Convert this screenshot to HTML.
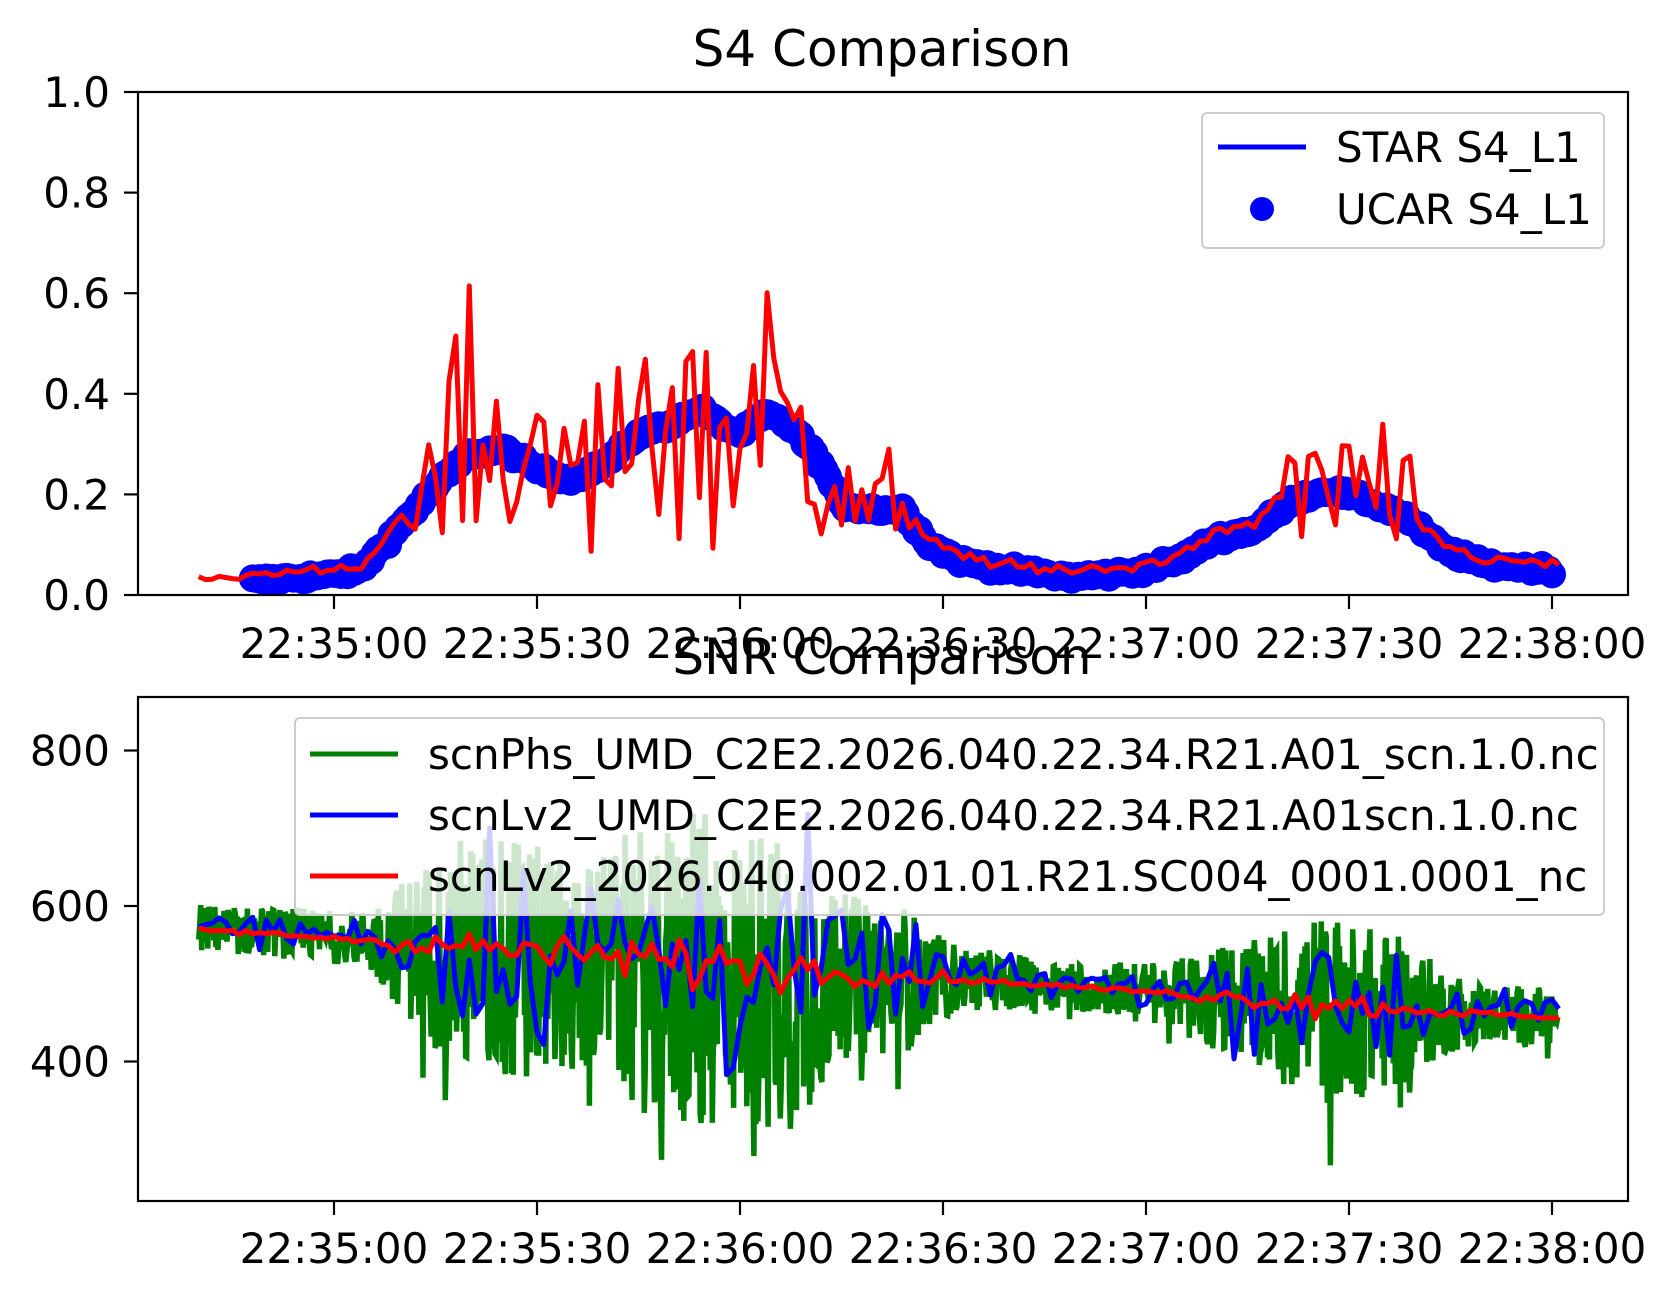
<!DOCTYPE html>
<html><head><meta charset="utf-8"><style>
html,body{margin:0;padding:0;background:#fff;}
svg text{font-family:"DejaVu Sans","Liberation Sans",sans-serif;fill:#000;}
</style></head><body>
<svg id="s" width="1675" height="1300" xmlns="http://www.w3.org/2000/svg">
<rect width="1675" height="1300" fill="#fff"/>
<defs>
<clipPath id="c1"><rect x="138" y="92" width="1490" height="503"/></clipPath>
<clipPath id="c2"><rect x="138" y="697" width="1490" height="504"/></clipPath>
</defs>
<g id="p1" clip-path="url(#c1)"></g>
<g id="p2" clip-path="url(#c2)"></g>
<g id="ax"></g>
<text x="882" y="66" font-size="50" text-anchor="middle">S4 Comparison</text>
<text x="882" y="674" font-size="50" text-anchor="middle">SNR Comparison</text>
<!-- legend 1 -->
<rect x="1202" y="113" width="402" height="135" rx="5" fill="#fff" fill-opacity="0.8" stroke="#ccc" stroke-width="2"/>
<line x1="1218" y1="147" x2="1306" y2="147" stroke="#00f" stroke-width="5"/>
<circle cx="1262" cy="209" r="12" fill="#00f"/>
<text x="1336" y="162" font-size="42">STAR S4_L1</text>
<text x="1336" y="224" font-size="42">UCAR S4_L1</text>
<!-- legend 2 -->
<rect x="295" y="718" width="1309" height="197" rx="5" fill="#fff" fill-opacity="0.8" stroke="#ccc" stroke-width="2"/>
<line x1="310" y1="754" x2="398" y2="754" stroke="#008000" stroke-width="5"/>
<line x1="310" y1="815" x2="398" y2="815" stroke="#00f" stroke-width="5"/>
<line x1="310" y1="876" x2="398" y2="876" stroke="#f00" stroke-width="5"/>
<text x="428" y="769" font-size="42">scnPhs_UMD_C2E2.2026.040.22.34.R21.A01_scn.1.0.nc</text>
<text x="428" y="830" font-size="42">scnLv2_UMD_C2E2.2026.040.22.34.R21.A01scn.1.0.nc</text>
<text x="428" y="891" font-size="42">scnLv2_2026.040.002.01.01.R21.SC004_0001.0001_nc</text>
</svg>
<script>
var NS="http://www.w3.org/2000/svg";
function el(p,n,a){var e=document.createElementNS(NS,n);for(var k in a)e.setAttribute(k,a[k]);p.appendChild(e);return e;}
var seed=12345;function rnd(){seed=(seed*1103515245+12345)%2147483648;return seed/2147483648;}
function gauss(){return (rnd()+rnd()+rnd()+rnd()-2)*1.7;}
var K=[[-20,0.035],[-10,0.04],[0,0.05],[4,0.06],[8,0.12],[12,0.18],[16,0.24],[20,0.29],[25,0.30],[30,0.26],[35,0.24],[40,0.27],[45,0.33],[50,0.35],[54,0.38],[57,0.35],[60,0.33],[64,0.37],[68,0.34],[72,0.27],[75,0.19],[80,0.18],[84,0.18],[88,0.11],[93,0.075],[100,0.06],[109,0.045],[118,0.055],[125,0.08],[130,0.12],[136,0.14],[142,0.2],[147,0.22],[152,0.2],[158,0.17],[164,0.1],[170,0.07],[181,0.06]];
function env(t){if(t<=K[0][0])return K[0][1];for(var i=1;i<K.length;i++){if(t<=K[i][0]){var a=K[i-1],b=K[i],f=(t-a[0])/(b[0]-a[0]);return a[1]+f*(b[1]-a[1]);}}return K[K.length-1][1];}
function X(t){return 334+t*203/30;}
function Y1(v){return 595-503*v;}
function Y2(v){return 906-(v-600)*0.7775;}
var p1=document.getElementById('p1'),p2=document.getElementById('p2'),ax=document.getElementById('ax');
var d="";
for(var t=-12;t<=180;t+=0.5){var v=env(t)-0.01+gauss()*0.004;d+="M"+X(t).toFixed(1)+" "+Y1(v).toFixed(1)+"h0.01";}
el(p1,'path',{d:d,stroke:'#00f','stroke-width':28,'stroke-linecap':'round',fill:'none'});
d="";
for(var t=-20;t<=181;t+=1){var e=env(t);var v=e+(e>0.15?gauss()*e*0.35:gauss()*0.006);if(rnd()<0.08&&e>0.15)v+=(rnd()-0.4)*0.3;if(v<0.02)v=0.02;d+=(t==-20?"M":"L")+X(t).toFixed(1)+" "+Y1(v).toFixed(1);}
el(p1,'path',{d:d,stroke:'#f00','stroke-width':5,fill:'none','stroke-linejoin':'round'});
function trend(t){return 575-(t+20)*115/201;}
d="";
for(var t=-20;t<=181;t+=0.15){var e=env(t);var a=e<0.08?22+e*250:e*560;var v=trend(t)+(rnd()-0.55)*2*a;if(rnd()<0.1)v-=rnd()*a*0.8;d+=(d?"L":"M")+X(t).toFixed(1)+" "+Y2(v).toFixed(1);}
el(p2,'path',{d:d,stroke:'#008000','stroke-width':5.5,fill:'none'});
d="";
for(var t=-20;t<=181;t+=1){var e=env(t);var a=e<0.08?10+e*120:e*340;var v=trend(t)+gauss()*a*0.7;d+=(d?"L":"M")+X(t).toFixed(1)+" "+Y2(v).toFixed(1);}
el(p2,'path',{d:d,stroke:'#00f','stroke-width':5,fill:'none','stroke-linejoin':'round'});
d="";
for(var t=-20;t<=181;t+=1){var e=env(t);var a=e<0.08?3:e*70;var v=trend(t)-5+gauss()*a*0.6;d+=(d?"L":"M")+X(t).toFixed(1)+" "+Y2(v).toFixed(1);}
el(p2,'path',{d:d,stroke:'#f00','stroke-width':5,fill:'none','stroke-linejoin':'round'});
el(ax,'rect',{x:138,y:92,width:1490,height:503,fill:'none',stroke:'#000','stroke-width':2.2});
el(ax,'rect',{x:138,y:697,width:1490,height:504,fill:'none',stroke:'#000','stroke-width':2.2});
var labs=["22:35:00","22:35:30","22:36:00","22:36:30","22:37:00","22:37:30","22:38:00"];
for(var i=0;i<7;i++){var x=X(i*30);
el(ax,'line',{x1:x,y1:595,x2:x,y2:609,stroke:'#000','stroke-width':2.2});
el(ax,'line',{x1:x,y1:1201,x2:x,y2:1215,stroke:'#000','stroke-width':2.2});
var tx=el(ax,'text',{x:x,y:658,'font-size':42,'text-anchor':'middle'});tx.textContent=labs[i];
tx=el(ax,'text',{x:x,y:1263,'font-size':42,'text-anchor':'middle'});tx.textContent=labs[i];}
var yl=["0.0","0.2","0.4","0.6","0.8","1.0"];
for(var i=0;i<6;i++){var y=Y1(i*0.2);el(ax,'line',{x1:124,y1:y,x2:138,y2:y,stroke:'#000','stroke-width':2.2});
var tx=el(ax,'text',{x:110,y:y+15,'font-size':42,'text-anchor':'end'});tx.textContent=yl[i];}
[400,600,800].forEach(function(v){var y=Y2(v);el(ax,'line',{x1:124,y1:y,x2:138,y2:y,stroke:'#000','stroke-width':2.2});
var tx=el(ax,'text',{x:110,y:y+15,'font-size':42,'text-anchor':'end'});tx.textContent=v;});
var s=document.getElementById('s');var kids=[].slice.call(s.querySelectorAll(':scope > text, :scope > rect[rx], :scope > line, :scope > circle'));kids.forEach(function(k){s.appendChild(k);});
</script>
</body></html>
